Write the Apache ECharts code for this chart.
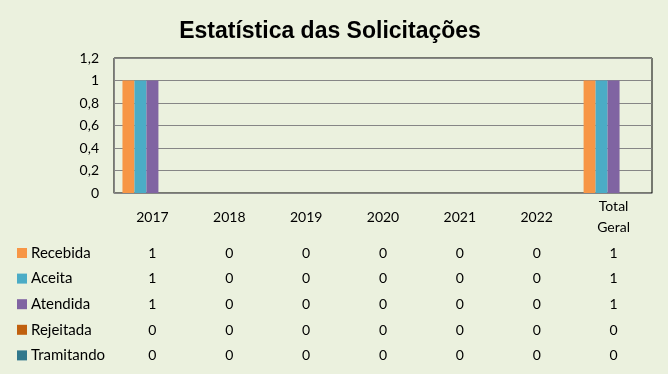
<!DOCTYPE html>
<html><head><meta charset="utf-8">
<script src="https://cdn.jsdelivr.net/npm/echarts@6/dist/echarts.min.js"></script>
<style>html,body{margin:0;padding:0;background:#EBF1DE;}#c{width:668px;height:374px;}</style>
</head><body><div id="c"></div>
<script>
const categories = ['2017','2018','2019','2020','2021','2022','Total\nGeral'];
const seriesNames = ['Recebida','Aceita','Atendida','Rejeitada','Tramitando'];
const recebida = [1,0,0,0,0,0,1];
const aceita = [1,0,0,0,0,0,1];
const atendida = [1,0,0,0,0,0,1];
const rejeitada = [0,0,0,0,0,0,0];
const tramitando = [0,0,0,0,0,0,0];
const yTicks = [0,0.2,0.4,0.6,0.8,1,1.2];
const colors = ['#F79646','#4BACC6','#8064A2','#C0600E','#31788C'];
const values = [recebida, aceita, atendida, rejeitada, tramitando];

const font = 'Lato, "Open Sans", sans-serif';
const rowMargins = [60, 85, 111, 137, 162];
const xAxes = [{
  type:'category', data:categories, gridIndex:0,
  axisLine:{show:true,lineStyle:{color:'#868686',width:1}},
  axisTick:{show:false},
  axisLabel:{color:'#000',fontFamily:font,fontSize:14,margin:24,verticalAlign:'middle',lineHeight:21,interval:0}
}];
values.forEach((arr,i)=>{
  xAxes.push({
    type:'category', data:categories, gridIndex:0, position:'bottom',
    axisLine:{show:false}, axisTick:{show:false}, splitLine:{show:false},
    axisLabel:{color:'#000',fontFamily:font,fontSize:14,margin:rowMargins[i],verticalAlign:'middle',interval:0,
      formatter:(v,idx)=>String(arr[idx])}
  });
});

const chart = echarts.init(document.getElementById('c'));
chart.setOption({
  backgroundColor:'#EBF1DE',
  animation:false,
  title:{text:'Estatística das Solicitações',left:329,textAlign:'center',top:15,
    textStyle:{fontFamily:'"Liberation Sans", Arial, sans-serif',fontWeight:'bold',fontSize:23,color:'#000'}},
  legend:{orient:'vertical',left:17,top:245,padding:0,itemWidth:10,itemHeight:10,itemGap:9.6,icon:'rect',
    data:seriesNames,
    textStyle:{fontFamily:font,fontSize:15,color:'#000',lineHeight:16,padding:[0,0,0,-1]}},
  grid:{left:114,right:16,top:58,bottom:181,show:true,borderColor:'#000',borderWidth:1,backgroundColor:'transparent'},
  xAxis:xAxes,
  yAxis:{type:'value',min:0,max:1.2,interval:0.2,
    axisLine:{show:true,lineStyle:{color:'#868686'}},
    axisTick:{show:false},
    splitLine:{lineStyle:{color:'#868686',width:1}},
    axisLabel:{color:'#000',fontFamily:font,fontSize:14,margin:15,
      formatter:v=>{const t=yTicks.find(x=>Math.abs(x-v)<1e-9);return String(Math.round((t===undefined?v:t)*10)/10).replace('.',',');}}
  },
  series:seriesNames.map((n,i)=>({name:n,type:'bar',xAxisIndex:0,data:values[i],
    itemStyle:{color:colors[i]},barGap:'0%',barCategoryGap:'22%'}))
}, true);
chart.setOption({title:{left:325}});
</script></body></html>
